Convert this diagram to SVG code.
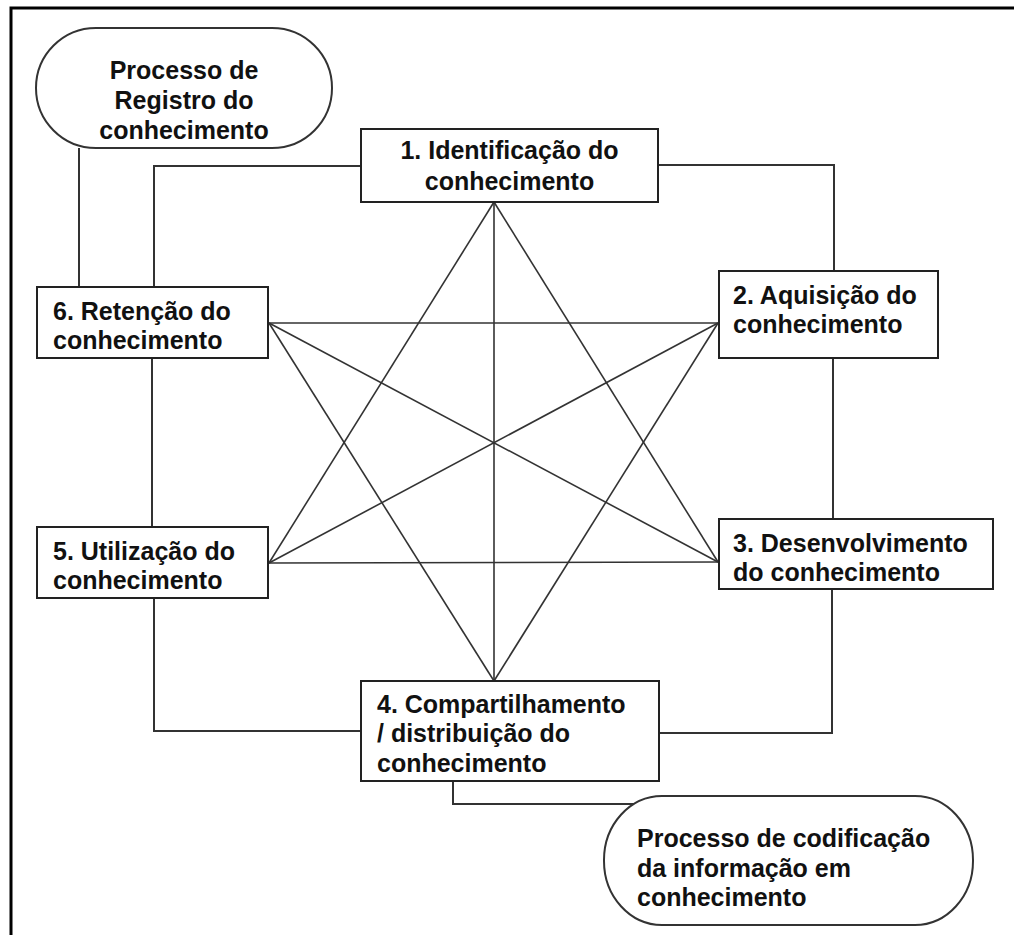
<svg xmlns="http://www.w3.org/2000/svg" width="1014" height="935" viewBox="0 0 1014 935">
<style>
.box{fill:#fff;stroke:#222;stroke-width:2}
.pill{fill:#fff;stroke:#333;stroke-width:2}
.t{font-family:"Liberation Sans",Arial,sans-serif;font-weight:bold;font-size:25px;fill:#111}
.c{text-anchor:middle}
.ln{fill:none;stroke:#333;stroke-width:2}
.st{fill:none;stroke:#333;stroke-width:1.6}
</style>
<rect width="1014" height="935" fill="#fff"/>
<path d="M11,935 V8 H1014" fill="none" stroke="#000" stroke-width="3"/>
<g id="connectors">
<path class="ln" d="M79,148 V287"/>
<path class="ln" d="M361,166 H154 V287"/>
<path class="ln" d="M658,165 H834 V271"/>
<path class="ln" d="M833,358 V519"/>
<path class="ln" d="M152,358 V527"/>
<path class="ln" d="M154,598 V731 H361"/>
<path class="ln" d="M832,589 V733 H659"/>
<path class="ln" d="M453,781 V804 H660"/>
<g id="star">
<line class="st" x1="494" y1="202" x2="494" y2="681"/>
<line class="st" x1="494" y1="202" x2="269" y2="563"/>
<line class="st" x1="494" y1="202" x2="718" y2="562"/>
<line class="st" x1="494" y1="681" x2="269" y2="323"/>
<line class="st" x1="494" y1="681" x2="718" y2="323"/>
<line class="st" x1="269" y1="323" x2="718" y2="323"/>
<line class="st" x1="269" y1="563" x2="718" y2="562"/>
<line class="st" x1="269" y1="323" x2="718" y2="562"/>
<line class="st" x1="269" y1="563" x2="718" y2="323"/>
</g>
</g>
<g id="pill-registro">
<rect class="pill" x="36" y="28" width="296" height="120" rx="60" ry="60"/>
<text class="t c" x="184" y="79">Processo de</text>
<text class="t c" x="184" y="109">Registro do</text>
<text class="t c" x="184" y="139">conhecimento</text>
</g>
<g id="node1">
<rect class="box" x="361" y="129" width="297" height="73"/>
<text class="t c" x="509.5" y="159">1. Identificação do</text>
<text class="t c" x="509.5" y="190">conhecimento</text>
</g>
<g id="node2">
<rect class="box" x="719" y="271" width="219" height="87"/>
<text class="t" x="733" y="304">2. Aquisição do</text>
<text class="t" x="733" y="333">conhecimento</text>
</g>
<g id="node3">
<rect class="box" x="719" y="519" width="274" height="70"/>
<text class="t" x="733" y="552">3. Desenvolvimento</text>
<text class="t" x="733" y="581">do conhecimento</text>
</g>
<g id="node4">
<rect class="box" x="361" y="681" width="298" height="100"/>
<text class="t" x="377" y="713">4. Compartilhamento</text>
<text class="t" x="377" y="742">/ distribuição do</text>
<text class="t" x="377" y="772">conhecimento</text>
</g>
<g id="node5">
<rect class="box" x="37" y="527" width="231" height="71"/>
<text class="t" x="53" y="560">5. Utilização do</text>
<text class="t" x="53" y="589">conhecimento</text>
</g>
<g id="node6">
<rect class="box" x="37" y="287" width="231" height="71"/>
<text class="t" x="53" y="320">6. Retenção do</text>
<text class="t" x="53" y="349">conhecimento</text>
</g>
<g id="pill-codificacao">
<rect class="pill" x="604" y="796" width="369" height="129" rx="58" ry="64"/>
<text class="t" x="637" y="847">Processo de codificação</text>
<text class="t" x="637" y="877">da informação em</text>
<text class="t" x="637" y="906">conhecimento</text>
</g>
</svg>
